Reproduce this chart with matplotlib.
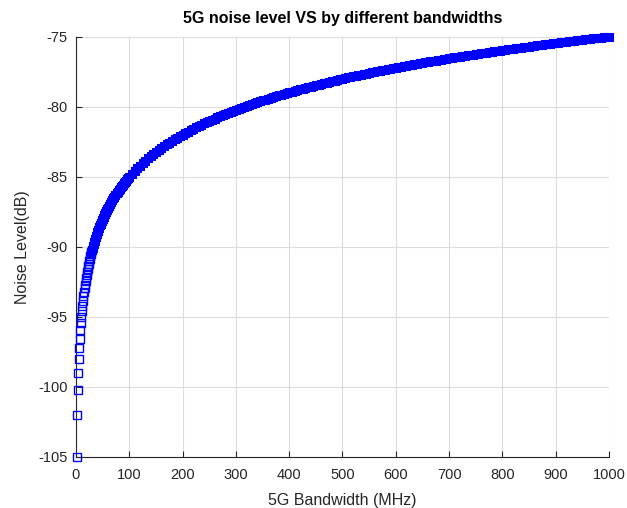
import matplotlib.pyplot as plt

plt.rcParams['font.family'] = ['Liberation Sans', 'DejaVu Sans']
plt.rcParams['axes.unicode_minus'] = False

# Bandwidth (MHz) and the noise level (dB)
bandwidth = [
    1, 2, 3, 4, 5, 6, 7, 8, 9, 10, 11, 12, 13, 14, 15, 16, 17, 18, 19, 20,
    21, 22, 23, 24, 25, 26, 27, 28, 29, 30, 31, 32, 33, 34, 35, 36, 37, 38, 39, 40,
    41, 42, 43, 44, 45, 46, 47, 48, 49, 50, 51, 52, 53, 54, 55, 56, 57, 58, 59, 60,
    62, 64, 66, 68, 70, 72, 74, 76, 78, 80, 82, 84, 86, 88, 90, 92, 94, 96, 98,
    100, 105, 110, 115, 120, 125, 130, 135, 140, 145, 150, 155, 160, 165, 170, 175,
    180, 185, 190, 195, 200, 205, 210, 215, 220, 225, 230, 235, 240, 245, 250,
    255, 260, 265, 270, 275, 280, 285, 290, 295, 300, 305, 310, 315, 320, 325,
    330, 335, 340, 345, 350, 355, 360, 365, 370, 375, 380, 385, 390, 395, 400,
    405, 410, 415, 420, 425, 430, 435, 440, 445, 450, 455, 460, 465, 470, 475,
    480, 485, 490, 495, 500, 505, 510, 515, 520, 525, 530, 535, 540, 545, 550,
    555, 560, 565, 570, 575, 580, 585, 590, 595, 600, 605, 610, 615, 620, 625,
    630, 635, 640, 645, 650, 655, 660, 665, 670, 675, 680, 685, 690, 695, 700,
    705, 710, 715, 720, 725, 730, 735, 740, 745, 750, 755, 760, 765, 770, 775,
    780, 785, 790, 795, 800, 805, 810, 815, 820, 825, 830, 835, 840, 845, 850,
    855, 860, 865, 870, 875, 880, 885, 890, 895, 900, 905, 910, 915, 920, 925,
    930, 935, 940, 945, 950, 955, 960, 965, 970, 975, 980, 985, 990, 995, 1000,
]

noise_level = [
    -105.00, -101.99, -100.23, -98.98, -98.01, -97.22, -96.55, -95.97, -95.46, -95.00,
    -94.59, -94.21, -93.86, -93.54, -93.24, -92.96, -92.70, -92.45, -92.21, -91.99,
    -91.78, -91.58, -91.38, -91.20, -91.02, -90.85, -90.69, -90.53, -90.38, -90.23,
    -90.09, -89.95, -89.81, -89.69, -89.56, -89.44, -89.32, -89.20, -89.09, -88.98,
    -88.87, -88.77, -88.67, -88.57, -88.47, -88.37, -88.28, -88.19, -88.10, -88.01,
    -87.92, -87.84, -87.76, -87.68, -87.60, -87.52, -87.44, -87.37, -87.29, -87.22,
    -87.08, -86.94, -86.80, -86.67, -86.55, -86.43, -86.31, -86.19, -86.08, -85.97,
    -85.86, -85.76, -85.65, -85.56, -85.46, -85.36, -85.27, -85.18, -85.09,
    -85.00, -84.79, -84.59, -84.39, -84.21, -84.03, -83.86, -83.70, -83.54, -83.39,
    -83.24, -83.10, -82.96, -82.83, -82.70, -82.57, -82.45, -82.33, -82.21, -82.10,
    -81.99, -81.88, -81.78, -81.68, -81.58, -81.48, -81.38, -81.29, -81.20, -81.11,
    -81.02, -80.93, -80.85, -80.77, -80.69, -80.61, -80.53, -80.45, -80.38, -80.30,
    -80.23, -80.16, -80.09, -80.02, -79.95, -79.88, -79.82, -79.75, -79.69, -79.62,
    -79.56, -79.50, -79.44, -79.38, -79.32, -79.26, -79.20, -79.15, -79.09, -79.03,
    -78.98, -78.93, -78.87, -78.82, -78.77, -78.72, -78.67, -78.62, -78.57, -78.52,
    -78.47, -78.42, -78.37, -78.33, -78.28, -78.23, -78.19, -78.14, -78.10, -78.05,
    -78.01, -77.97, -77.92, -77.88, -77.84, -77.80, -77.76, -77.72, -77.68, -77.64,
    -77.60, -77.56, -77.52, -77.48, -77.44, -77.40, -77.37, -77.33, -77.29, -77.25,
    -77.22, -77.18, -77.15, -77.11, -77.08, -77.04, -77.01, -76.97, -76.94, -76.90,
    -76.87, -76.84, -76.80, -76.77, -76.74, -76.71, -76.68, -76.64, -76.61, -76.58,
    -76.55, -76.52, -76.49, -76.46, -76.43, -76.40, -76.37, -76.34, -76.31, -76.28,
    -76.25, -76.22, -76.19, -76.16, -76.14, -76.11, -76.08, -76.05, -76.02, -76.00,
    -75.97, -75.94, -75.92, -75.89, -75.86, -75.84, -75.81, -75.78, -75.76, -75.73,
    -75.71, -75.68, -75.66, -75.63, -75.61, -75.58, -75.56, -75.53, -75.51, -75.48,
    -75.46, -75.43, -75.41, -75.39, -75.36, -75.34, -75.32, -75.29, -75.27, -75.25,
    -75.22, -75.20, -75.18, -75.15, -75.13, -75.11, -75.09, -75.07, -75.04, -75.02,
    -75.00,
]

x_ticks = [0, 100, 200, 300, 400, 500, 600, 700, 800, 900, 1000]
y_ticks = [-105, -100, -95, -90, -85, -80, -75]

fig = plt.figure(figsize=(6.27, 5.08), dpi=100)
ax = fig.add_axes([0.1212, 0.1004, 0.8501, 0.8276])

# first points are separate squares, the rest pile up into a solid band
n_sparse = 30
ax.plot(bandwidth[:n_sparse], noise_level[:n_sparse], linestyle='none', marker='s',
        markersize=5.2, markerfacecolor='none', markeredgecolor='#0000ff',
        markeredgewidth=1, clip_on=False, zorder=3)
ax.plot(bandwidth[n_sparse - 1:], noise_level[n_sparse - 1:], linestyle='none', marker='s',
        markersize=4.8, markerfacecolor='none', markeredgecolor='#0000ff',
        markeredgewidth=2.2, clip_on=False, zorder=3)

ax.set_xlim(0, 1000)
ax.set_ylim(-105, -75)
ax.set_xticks(x_ticks)
ax.set_yticks(y_ticks)
ax.grid(True, color='#dcdcdc', linewidth=0.8)
ax.set_axisbelow(True)

for side in ['top', 'right']:
    ax.spines[side].set_visible(False)
for side in ['left', 'bottom']:
    ax.spines[side].set_color('#262626')
    ax.spines[side].set_linewidth(0.8)
ax.tick_params(direction='in', length=4, colors='#262626', labelsize=10.5)
ax.tick_params(axis='x', pad=8)
ax.tick_params(axis='y', pad=6)

ax.set_xlabel('5G Bandwidth (MHz)', fontsize=11.5, color='#262626', labelpad=8)
ax.set_ylabel('Noise Level(dB)', fontsize=11.5, color='#262626', labelpad=6)
ax.set_title('5G noise level VS by different bandwidths', fontsize=11.5,
             fontweight='bold', color='black', pad=10)

fig.savefig('out.png', dpi=100)
